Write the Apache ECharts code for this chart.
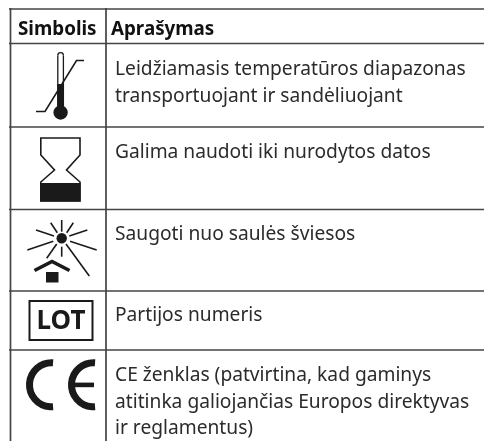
<!DOCTYPE html>
<html><head><meta charset="utf-8">
<style>html,body{margin:0;padding:0;background:#fff}#c{width:484px;height:441px}</style>
<script src="https://cdn.jsdelivr.net/npm/echarts@6/dist/echarts.min.js"></script>
</head><body><div id="c"></div>
<script>
const headers = ['Simbolis', 'Aprašymas'];
const rowDescriptions = [
  ['Leidžiamasis temperatūros diapazonas', 'transportuojant ir sandėliuojant'],
  ['Galima naudoti iki nurodytos datos'],
  ['Saugoti nuo saulės šviesos'],
  ['Partijos numeris'],
  ['CE ženklas (patvirtina, kad gaminys', 'atitinka galiojančias Europos direktyvas', 'ir reglamentus)']
];
const rowFirstLineY = [70, 153, 235, 316, 376];
const hLineY = [9, 43.5, 127, 209.5, 291, 350];
const lotLabel = 'LOT';
const FONT = '"Noto Sans","Open Sans",sans-serif';
const chart = echarts.init(document.getElementById('c'));
const g = [];
const LINE = '#444', INK = '#1a1a1a';
hLineY.forEach(y => g.push({type:'line',shape:{x1:9,y1:y,x2:484,y2:y},style:{stroke:LINE,lineWidth:1.7}}));
g.push({type:'line',shape:{x1:10.5,y1:8,x2:10.5,y2:441},style:{stroke:LINE,lineWidth:1.7}});
g.push({type:'line',shape:{x1:106,y1:8,x2:106,y2:441},style:{stroke:LINE,lineWidth:1.7}});
g.push({type:'text',x:18,y:29.5,style:{text:headers[0],font:'bold 18.8px '+FONT,fill:'#111',textVerticalAlign:'middle'}});
g.push({type:'text',x:111,y:29.5,style:{text:headers[1],font:'bold 18.8px '+FONT,fill:'#111',textVerticalAlign:'middle'}});
rowDescriptions.forEach((lines,i)=>lines.forEach((t,j)=>g.push({type:'text',x:115,y:rowFirstLineY[i]+j*26.5,
  style:{text:t,font:'19.2px '+FONT,fill:'#2b2b2b',textVerticalAlign:'middle'}})));
const pl=(pts,w)=>g.push({type:'polyline',shape:{points:pts},style:{fill:'none',stroke:INK,lineWidth:w}});
const pg=(pts)=>g.push({type:'polygon',shape:{points:pts},style:{fill:INK}});
const arc=(cx,cy,r,a0,a1,w,cw)=>g.push({type:'arc',shape:{cx,cy,r,startAngle:a0,endAngle:a1,clockwise:cw},style:{fill:'none',stroke:INK,lineWidth:w}});
// thermometer
pl([[57.8,108],[57.8,55.5]],1.3); pl([[63.4,108],[63.4,55.5]],1.3);
arc(60.6,55.5,2.8,Math.PI,0,1.3,true);
pg([[57.3,84],[63.9,84],[63.9,108],[57.3,108]]);
g.push({type:'circle',shape:{cx:60.6,cy:112.5,r:7.2},style:{fill:INK}});
pl([[36,111.5],[45,111.5],[76.5,60.5],[84,60.5]],1.6);
// hourglass
g.push({type:'polygon',shape:{points:[[40.8,138],[80,138],[80,155],[66.5,170],[80,182],[80,201],[40.8,201],[40.8,182],[54.5,170],[40.8,155]]},style:{fill:'none',stroke:INK,lineWidth:1.6}});
pg([[40.3,183],[80.5,183],[80.5,201.5],[40.3,201.5]]);
// sun
g.push({type:'circle',shape:{cx:61.7,cy:238.3,r:5.2},style:{fill:INK}});
[[61.7,220,61.7,231.7],[50.7,222.7,57.3,232.7],[73.3,222.7,66.7,232.7],[36,230,54,236],[87.3,230,69.3,236],
 [27.3,250,53.3,241.3],[96.7,250,70,241.3],[46.7,258.3,56.7,244],[61.7,246.7,61.7,256.7],[89.3,276,66,244]]
 .forEach(r=>g.push({type:'line',shape:{x1:r[0],y1:r[1],x2:r[2],y2:r[3]},style:{stroke:INK,lineWidth:1.6}}));
pl([[34.5,270.5],[52,261.5],[69.5,270.5]],3.6);
pg([[46,272],[58.5,272],[58.5,282.5],[46,282.5]]);
// LOT box
g.push({type:'rect',shape:{x:29.5,y:301,width:63,height:39},style:{fill:'none',stroke:INK,lineWidth:2}});
g.push({type:'text',x:61,y:321.5,style:{text:lotLabel,font:'bold 26px '+FONT,fill:INK,textAlign:'center',textVerticalAlign:'middle'}});
// CE
const A=1.5;
arc(51.5,384.8,22,-A,A,7,false);
arc(93.5,384.8,22,-A,A,7,false);
g.push({type:'rect',shape:{x:70,y:382.6,width:24,height:4.6},style:{fill:INK}});
chart.setOption({animation:false,backgroundColor:'#fff',graphic:{elements:g}});
</script></body></html>
